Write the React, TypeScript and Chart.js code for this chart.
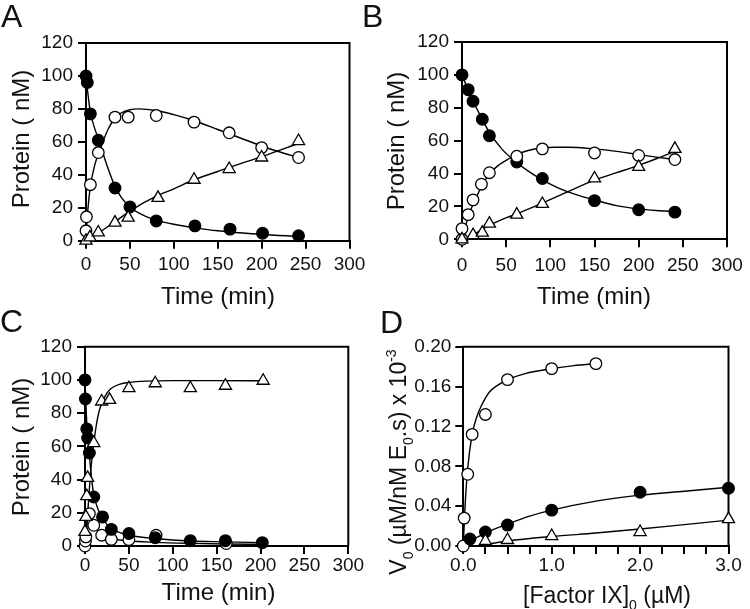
import React, { useEffect, useRef } from 'react';
import { Chart, registerables } from 'chart.js';
Chart.register(...registerables);

const FONT = "'Liberation Sans', Arial, Helvetica, sans-serif";
const INK = '#111';

// ---------------- Panel A ----------------
const A_IX_T = [0, 1.5, 5, 14, 33, 50, 80, 124, 164, 201, 242];
const A_IX_V = [100, 96, 77, 61, 32, 20.5, 12, 9, 7, 4.5, 3];
const A_IXA_T = [0, 0.5, 5, 14, 33, 48, 80, 123, 163, 200, 242];
const A_IXA_V = [6, 14.5, 34, 53.5, 75, 75, 76, 72, 65.5, 56.5, 50.5];
const A_IXB_T = [0, 4.5, 14, 33, 48, 82, 123, 163, 200, 242];
const A_IXB_V = [0, 2, 5, 11, 14, 26, 37, 43.5, 50.5, 60.5];
const A_FIT1_T = [0, 2, 5, 10, 15, 20, 25, 33, 40, 50, 65, 80, 100, 125, 150, 175, 200, 242];
const A_FIT1_V = [100, 90, 78, 68, 60.5, 52, 44, 33, 26.5, 20.5, 15.5, 12.5, 10, 7.8, 6, 4.8, 3.8, 2.6];
const A_FIT2_T = [0, 1, 2, 5, 10, 15, 20, 25, 33, 40, 50, 60, 80, 100, 125, 150, 175, 200, 220, 242];
const A_FIT2_V = [0, 10, 18, 33, 46, 54, 61, 67.5, 74.5, 77.5, 79.5, 80, 79, 76.5, 72.5, 67.5, 62.5, 57.5, 54, 50.5];
const A_FIT3_T = [0, 5, 15, 33, 50, 80, 100, 123, 150, 163, 200, 242];
const A_FIT3_V = [0, 1.5, 5, 11.5, 18, 27, 31.5, 37, 42, 44.5, 51, 59];

// ---------------- Panel B ----------------
const B_IX_T = [0, 7, 12.5, 23, 31, 62, 91, 150, 200, 241];
const B_IX_V = [100, 91, 84, 73, 63, 47, 37, 23.5, 18, 16.5];
const B_IXA_T = [0, 0, 7, 12.5, 22, 31, 62, 91, 150, 200, 241];
const B_IXA_V = [0, 6.5, 15, 24, 33.5, 40.5, 50.5, 55, 52.5, 51, 48.5];
const B_IXB_T = [0, 12.5, 23, 31, 62, 91, 150, 200, 241];
const B_IXB_V = [0, 2.5, 4, 9.5, 15, 21.5, 37, 44, 55];
const B_FIT1_T = [0, 10, 20, 30, 45, 60, 75, 90, 110, 130, 150, 175, 200, 220, 241];
const B_FIT1_V = [100, 87, 76, 66, 55, 47.5, 41.5, 36.5, 31, 27, 24, 20.5, 18.5, 17.5, 16.8];
const B_FIT2_T = [0, 5, 10, 15, 22, 30, 40, 50, 62, 75, 90, 105, 120, 150, 175, 200, 220, 241];
const B_FIT2_V = [0, 10, 18, 24, 32, 39, 44.5, 48, 51.5, 54, 55.5, 56, 56, 55, 53.5, 51.5, 50, 48.5];
const B_FIT3_T = [5, 15, 31, 45, 62, 91, 120, 150, 175, 200, 220, 241];
const B_FIT3_V = [0, 3.5, 8.5, 12, 15.5, 22, 29, 36, 40.5, 45, 49, 53.5];

// ---------------- Panel C ----------------
const C_IX_T = [0, 0.5, 2, 3, 5, 10, 20, 30, 50, 80, 120, 160, 202];
const C_IX_V = [100, 88.5, 70.5, 65, 56, 29.5, 17.5, 10, 7.5, 5, 3.2, 3.2, 2];
const C_IXA_T = [0, 0.5, 1, 5, 10, 19, 30, 50, 81, 161];
const C_IXA_V = [0, 3, 5.5, 19.5, 12.5, 6.5, 4, 3.8, 6.5, 1.5];
const C_IXB_T = [0, 1, 2, 3, 10, 19, 28, 50, 80, 120, 160, 203];
const C_IXB_V = [8.5, 17.5, 30, 41, 62, 87, 88, 95, 98, 95, 96.5, 99.5];
const C_FIT1_T = [0, 1, 2, 3, 5, 7, 10, 15, 20, 30, 40, 50, 80, 120, 160, 202];
const C_FIT1_V = [100, 86, 74, 66, 55, 43, 31, 22, 16.5, 10.5, 8, 6.5, 4.5, 3, 2.5, 2];
const C_FIT2_T = [0, 1, 2, 4, 6, 10, 15, 20, 30, 50, 80, 120, 160, 202];
const C_FIT2_V = [0, 8, 14, 19, 18, 13.5, 9, 6.5, 4.5, 3, 2.2, 1.6, 1.2, 1];
const C_FIT3_T = [0, 2, 4, 6, 8, 10, 13, 16, 20, 25, 30, 40, 50, 70, 100, 150, 202];
const C_FIT3_V = [0, 10, 27, 42, 53, 62, 73, 81, 87, 92, 95, 97.5, 98.5, 99.3, 99.6, 99.6, 99.5];

// ---------------- Panel D ----------------
const D_OPEN_X = [0, 0.01, 0.05, 0.1, 0.25, 0.5, 1.0, 1.5];
const D_OPEN_V = [0, 0.028, 0.072, 0.112, 0.132, 0.167, 0.178, 0.183];
const D_FILL_X = [0.075, 0.25, 0.5, 1.0, 2.0, 3.0];
const D_FILL_V = [0.007, 0.014, 0.021, 0.036, 0.054, 0.058];
const D_TRI_X = [0.25, 0.5, 1.0, 2.0, 3.0];
const D_TRI_V = [0.005, 0.006, 0.01, 0.014, 0.027];
const D_FIT1_X = [0, 0.02, 0.05, 0.1, 0.15, 0.2, 0.3, 0.4, 0.5, 0.7, 1.0, 1.25, 1.5];
const D_FIT1_V = [0, 0.04, 0.078, 0.112, 0.129, 0.14, 0.155, 0.162, 0.167, 0.173, 0.178, 0.181, 0.183];
const D_FIT2_X = [0, 0.1, 0.25, 0.5, 0.75, 1.0, 1.5, 2.0, 2.5, 3.0];
const D_FIT2_V = [0, 0.006, 0.013, 0.022, 0.03, 0.036, 0.045, 0.051, 0.055, 0.059];
const D_FIT3_X = [0.15, 0.5, 1.0, 1.5, 2.0, 2.5, 3.0];
const D_FIT3_V = [0, 0.005, 0.0095, 0.013, 0.017, 0.0215, 0.026];

// ---------------- Tick settings ----------------
const TIME_MAX = 300;
const TIME_STEP = 50;
const PROT_MAX = 120;
const PROT_STEP = 20;
const FIX_MAX = 3;
const FIX_STEP = 0.25;
const V_MAX = 0.2;
const V_STEP = 0.04;

type Seg = { t: string; s?: 'sub' | 'sup' };
type Kind = 'filled' | 'open' | 'tri';

interface Spec {
  left: number; top: number; width: number; height: number;
  area: { l: number; r: number; t: number; b: number };
  x: { max: number; step: number; cb: (v: number) => string; pad: number };
  y: { max: number; step: number; cb: (v: number) => string; pad: number };
  xH: number;
  series: { xs: number[]; ys: number[]; kind: Kind }[];
  fits: { xs: number[]; ys: number[] }[];
  letter: string; letterX: number; letterBase: number;
  xTitle: Seg[]; xTitleCx: number; xTitleBase: number; xTitleSize: number;
  yTitle: Seg[]; yTitleBase: number; yTitleCy: number; yTitleSize: number;
}

const pts = (xs: number[], ys: number[]) => xs.map((x, i) => ({ x, y: ys[i] }));

function drawRich(ctx: CanvasRenderingContext2D, segs: Seg[], size: number, cx: number, base: number, rotate: boolean) {
  ctx.save();
  ctx.translate(cx, base);
  if (rotate) ctx.rotate(-Math.PI / 2);
  const small = Math.round(size * 0.62);
  const widths: number[] = [];
  let total = 0;
  segs.forEach((s) => {
    ctx.font = `${s.s ? small : size}px ${FONT}`;
    const w = ctx.measureText(s.t).width;
    widths.push(w);
    total += w;
  });
  let x = -total / 2;
  ctx.fillStyle = INK;
  ctx.textAlign = 'left';
  ctx.textBaseline = 'alphabetic';
  segs.forEach((s, i) => {
    ctx.font = `${s.s ? small : size}px ${FONT}`;
    const dy = s.s === 'sub' ? size * 0.3 : s.s === 'sup' ? -size * 0.45 : 0;
    ctx.fillText(s.t, x, dy);
    x += widths[i];
  });
  ctx.restore();
}

function makeChart(canvas: HTMLCanvasElement, sp: Spec) {
  const yWidth = sp.area.l - sp.left;
  const padTop = sp.area.t - sp.top;
  const padRight = sp.left + sp.width - sp.area.r;
  const padBottom = sp.top + sp.height - sp.area.b - sp.xH;
  const ox = sp.left;
  const oy = sp.top;

  const decor = {
    id: 'decor' + sp.letter,
    beforeDatasetsDraw(chart: any) {
      const { ctx, chartArea: a } = chart;
      ctx.save();
      ctx.strokeStyle = '#000';
      ctx.lineWidth = 2;
      ctx.beginPath();
      ctx.moveTo(a.left - 1, a.top);
      ctx.lineTo(a.right, a.top);
      ctx.lineTo(a.right, a.bottom);
      ctx.stroke();
      ctx.restore();
    },
    afterDraw(chart: any) {
      const ctx = chart.ctx as CanvasRenderingContext2D;
      ctx.save();
      ctx.fillStyle = INK;
      ctx.font = `32px ${FONT}`;
      ctx.textAlign = 'left';
      ctx.textBaseline = 'alphabetic';
      ctx.fillText(sp.letter, sp.letterX - ox, sp.letterBase - oy);
      ctx.restore();
      drawRich(ctx, sp.xTitle, sp.xTitleSize, sp.xTitleCx - ox, sp.xTitleBase - oy, false);
      drawRich(ctx, sp.yTitle, sp.yTitleSize, sp.yTitleBase - ox, sp.yTitleCy - oy, true);
    },
  };

  const datasets: any[] = [];
  sp.fits.forEach((f) => {
    datasets.push({
      data: pts(f.xs, f.ys), showLine: true, pointRadius: 0, borderColor: '#000', borderWidth: 1.4,
      cubicInterpolationMode: 'monotone', clip: false, order: 5, fill: false,
    });
  });
  sp.series.forEach((s) => {
    datasets.push({
      data: pts(s.xs, s.ys), showLine: false, clip: false, order: 1,
      pointStyle: s.kind === 'tri' ? 'triangle' : 'circle',
      pointRadius: s.kind === 'tri' ? 7 : 5.8,
      pointBackgroundColor: s.kind === 'filled' ? '#000' : '#fff',
      pointBorderColor: '#000',
      pointBorderWidth: 1.3,
    });
  });

  const tickFont = { family: FONT, size: 19 };
  return new Chart(canvas, {
    type: 'scatter',
    data: { datasets },
    options: {
      animation: false,
      responsive: false,
      events: [],
      layout: { padding: { left: 0, top: padTop, right: padRight, bottom: padBottom } },
      plugins: { legend: { display: false }, tooltip: { enabled: false } },
      scales: {
        x: {
          type: 'linear', position: 'bottom', min: 0, max: sp.x.max,
          ticks: { stepSize: sp.x.step, autoSkip: false, maxRotation: 0, color: INK, font: tickFont, padding: sp.x.pad, callback: (v: any) => sp.x.cb(Number(v)) },
          grid: { drawOnChartArea: false, drawTicks: true, tickLength: 8, color: '#000', lineWidth: 2 },
          border: { display: true, color: '#000', width: 2 },
          afterFit: (s: any) => { s.height = sp.xH; },
        },
        y: {
          type: 'linear', position: 'left', min: 0, max: sp.y.max,
          ticks: { stepSize: sp.y.step, autoSkip: false, color: INK, font: tickFont, padding: sp.y.pad, callback: (v: any) => sp.y.cb(Number(v)) },
          grid: { drawOnChartArea: false, drawTicks: true, tickLength: 8, color: '#000', lineWidth: 2 },
          border: { display: true, color: '#000', width: 2 },
          afterFit: (s: any) => { s.width = yWidth; },
        },
      },
    } as any,
    plugins: [decor],
  });
}

const intLabel = (v: number) => String(Math.round(v));
const protTitle: Seg[] = [{ t: 'Protein ( nM)' }];
const timeTitle: Seg[] = [{ t: 'Time (min)' }];

const SPECS: Spec[] = [
  {
    left: 0, top: 0, width: 375, height: 312,
    area: { l: 86, r: 349.5, t: 43, b: 240.7 },
    x: { max: TIME_MAX, step: TIME_STEP, cb: intLabel, pad: 5 },
    y: { max: PROT_MAX, step: PROT_STEP, cb: intLabel, pad: 5 },
    xH: 40,
    series: [
      { xs: A_IXB_T, ys: A_IXB_V, kind: 'tri' },
      { xs: A_IXA_T, ys: A_IXA_V, kind: 'open' },
      { xs: A_IX_T, ys: A_IX_V, kind: 'filled' },
    ],
    fits: [
      { xs: A_FIT1_T, ys: A_FIT1_V }, { xs: A_FIT2_T, ys: A_FIT2_V }, { xs: A_FIT3_T, ys: A_FIT3_V },
    ],
    letter: 'A', letterX: 1, letterBase: 27,
    xTitle: timeTitle, xTitleCx: 218, xTitleBase: 304, xTitleSize: 24,
    yTitle: protTitle, yTitleBase: 29, yTitleCy: 139, yTitleSize: 24,
  },
  {
    left: 355, top: 0, width: 395, height: 312,
    area: { l: 462, r: 727, t: 42, b: 239.3 },
    x: { max: TIME_MAX, step: TIME_STEP, cb: intLabel, pad: 6.6 },
    y: { max: PROT_MAX, step: PROT_STEP, cb: intLabel, pad: 5 },
    xH: 40,
    series: [
      { xs: B_IXB_T, ys: B_IXB_V, kind: 'tri' },
      { xs: B_IXA_T, ys: B_IXA_V, kind: 'open' },
      { xs: B_IX_T, ys: B_IX_V, kind: 'filled' },
    ],
    fits: [
      { xs: B_FIT1_T, ys: B_FIT1_V }, { xs: B_FIT2_T, ys: B_FIT2_V }, { xs: B_FIT3_T, ys: B_FIT3_V },
    ],
    letter: 'B', letterX: 362, letterBase: 27,
    xTitle: timeTitle, xTitleCx: 594, xTitleBase: 304, xTitleSize: 24,
    yTitle: protTitle, yTitleBase: 404, yTitleCy: 141, yTitleSize: 24,
  },
  {
    left: 0, top: 300, width: 375, height: 309,
    area: { l: 85, r: 348.3, t: 346.7, b: 546 },
    x: { max: TIME_MAX, step: TIME_STEP, cb: intLabel, pad: 0.2 },
    y: { max: PROT_MAX, step: PROT_STEP, cb: intLabel, pad: 5 },
    xH: 40,
    series: [
      { xs: C_IXB_T, ys: C_IXB_V, kind: 'tri' },
      { xs: C_IX_T, ys: C_IX_V, kind: 'filled' },
      { xs: C_IXA_T, ys: C_IXA_V, kind: 'open' },
    ],
    fits: [
      { xs: C_FIT1_T, ys: C_FIT1_V }, { xs: C_FIT2_T, ys: C_FIT2_V }, { xs: C_FIT3_T, ys: C_FIT3_V },
    ],
    letter: 'C', letterX: 0, letterBase: 332,
    xTitle: timeTitle, xTitleCx: 218.5, xTitleBase: 600, xTitleSize: 24,
    yTitle: protTitle, yTitleBase: 29, yTitleCy: 447, yTitleSize: 24,
  },
  {
    left: 355, top: 300, width: 395, height: 309,
    area: { l: 463.3, r: 728.5, t: 346.7, b: 546 },
    x: {
      max: FIX_MAX, step: FIX_STEP, pad: 0.2,
      cb: (v: number) => (Math.abs(v - Math.round(v)) < 1e-6 ? v.toFixed(1) : ''),
    },
    y: { max: V_MAX, step: V_STEP, cb: (v: number) => v.toFixed(2), pad: 4 },
    xH: 40,
    series: [
      { xs: D_TRI_X, ys: D_TRI_V, kind: 'tri' },
      { xs: D_FILL_X, ys: D_FILL_V, kind: 'filled' },
      { xs: D_OPEN_X, ys: D_OPEN_V, kind: 'open' },
    ],
    fits: [
      { xs: D_FIT1_X, ys: D_FIT1_V }, { xs: D_FIT2_X, ys: D_FIT2_V }, { xs: D_FIT3_X, ys: D_FIT3_V },
    ],
    letter: 'D', letterX: 380, letterBase: 333,
    xTitle: [{ t: '[Factor IX]' }, { t: '0', s: 'sub' }, { t: ' (µM)' }],
    xTitleCx: 607, xTitleBase: 603, xTitleSize: 23,
    yTitle: [
      { t: 'V' }, { t: '0', s: 'sub' }, { t: ' (µM/nM E' }, { t: '0', s: 'sub' }, { t: '.s) x 10' }, { t: '-3', s: 'sup' },
    ],
    yTitleBase: 406, yTitleCy: 462, yTitleSize: 23,
  },
];

export default function App() {
  const refs = [useRef<HTMLCanvasElement>(null), useRef<HTMLCanvasElement>(null), useRef<HTMLCanvasElement>(null), useRef<HTMLCanvasElement>(null)];
  useEffect(() => {
    const charts = SPECS.map((sp, i) => makeChart(refs[i].current as HTMLCanvasElement, sp));
    return () => charts.forEach((c) => c.destroy());
  }, []);
  return (
    <div style={{ position: 'absolute', left: 0, top: 0, width: 750, height: 609, background: '#fff', overflow: 'hidden' }}>
      {SPECS.map((sp, i) => (
        <canvas
          key={i}
          ref={refs[i]}
          width={sp.width}
          height={sp.height}
          style={{ position: 'absolute', left: sp.left, top: sp.top, width: sp.width, height: sp.height }}
        />
      ))}
    </div>
  );
}
